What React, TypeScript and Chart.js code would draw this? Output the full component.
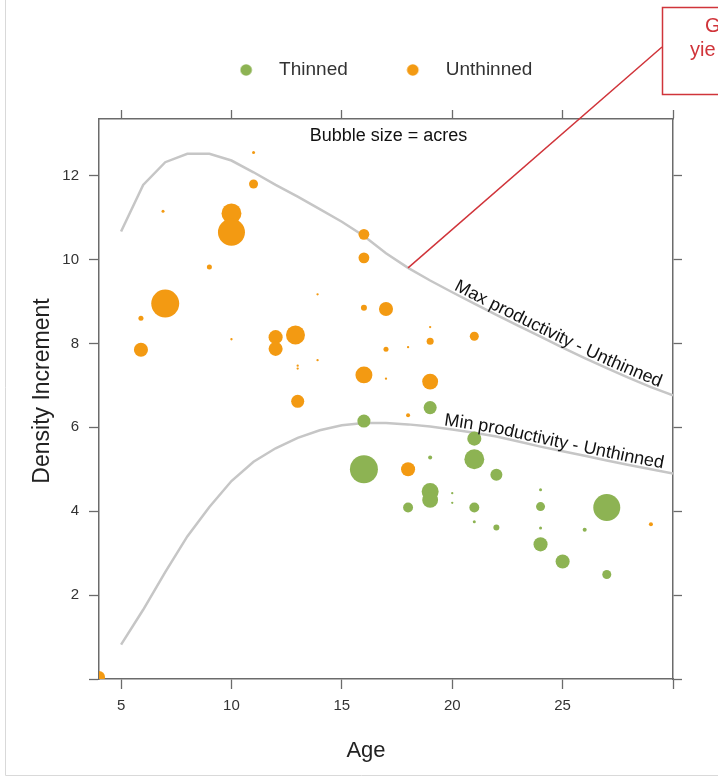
import React, { useEffect, useRef } from 'react';
import { Chart, registerables } from 'chart.js';

Chart.register(...registerables);

// ---------- data ----------
const CURVE_AGES = [5, 6, 7, 8, 9, 10, 11, 12, 13, 14, 15, 16, 17, 18, 19, 20, 21, 22, 23, 24, 25, 26, 27, 28, 29, 30];
const MAX_PRODUCTIVITY = [10.67, 11.78, 12.32, 12.52, 12.52, 12.36, 12.08, 11.78, 11.5, 11.2, 10.9, 10.56, 10.15, 9.8, 9.5, 9.22, 8.95, 8.68, 8.42, 8.16, 7.9, 7.65, 7.41, 7.18, 6.96, 6.76];
const MIN_PRODUCTIVITY = [0.82, 1.65, 2.55, 3.4, 4.1, 4.72, 5.18, 5.5, 5.75, 5.93, 6.05, 6.1, 6.1, 6.07, 6.02, 5.95, 5.87, 5.78, 5.66, 5.54, 5.43, 5.32, 5.21, 5.1, 5.0, 4.9];

const THINNED_AGE = [16, 16, 19, 21, 21, 19, 22, 19, 19, 20, 20, 18, 21, 21, 22, 24, 24, 24, 24, 25, 26, 27, 27];
const THINNED_INCREMENT = [6.15, 5.0, 6.47, 5.73, 5.24, 5.28, 4.87, 4.47, 4.27, 4.43, 4.2, 4.09, 4.09, 3.75, 3.61, 4.51, 4.11, 3.6, 3.21, 2.8, 3.56, 4.09, 2.49];
const THINNED_ACRES = [19, 87, 19, 22, 44, 1.8, 16, 32, 28, 0.6, 0.6, 11, 11, 1, 4, 1, 9, 1, 22, 22, 1.8, 81, 9];

const UNTHINNED_AGE = [4, 11, 11, 6.9, 10, 10, 9, 7, 5.9, 5.9, 10, 12, 12, 12.9, 13, 13, 13.9, 13.9, 13, 16, 16, 16, 17, 17, 16, 17, 19, 19, 18, 21, 19, 18, 18, 29];
const UNTHINNED_INCREMENT = [0.05, 12.55, 11.8, 11.15, 11.1, 10.65, 9.82, 8.95, 8.6, 7.85, 8.1, 8.15, 7.87, 8.2, 7.47, 7.4, 9.17, 7.6, 6.62, 10.6, 10.04, 8.85, 8.82, 7.86, 7.25, 7.16, 8.39, 8.05, 7.91, 8.17, 7.09, 6.29, 5.0, 3.69];
const UNTHINNED_ACRES = [16, 1, 9, 1, 44, 81, 2.8, 87, 2.8, 22, 0.6, 22, 22, 40, 0.6, 0.6, 0.6, 0.6, 19, 13, 13, 4, 22, 2.8, 32, 0.6, 0.6, 5.5, 0.6, 9, 28, 1.8, 22, 1.8];

const X_TICKS = [5, 10, 15, 20, 25, 30];
const X_LABELED = [5, 10, 15, 20, 25];
const Y_TICKS = [0, 2, 4, 6, 8, 10, 12];
const Y_LABELED = [2, 4, 6, 8, 10, 12];

// ---------- style ----------
const FONT = "'Liberation Sans', Arial, Helvetica, sans-serif";
const GREEN = '#8db353';
const ORANGE = '#f39a12';
const CURVE = '#c6c6c6';
const AXIS = '#6b6b6b';
const RED = '#d0343a';
const RADIUS_PER_SQRT_ACRE = 1.5;

function bubbles(ages: number[], inc: number[], acres: number[]) {
  return ages.map((a, i) => ({ x: a, y: inc[i], r: RADIUS_PER_SQRT_ACRE * Math.sqrt(acres[i]) }));
}
function curve(vals: number[]) {
  return CURVE_AGES.map((a, i) => ({ x: a, y: vals[i] }));
}

function makeDot(color: string) {
  const c = document.createElement('canvas');
  c.width = 30;
  c.height = 14;
  const g = c.getContext('2d')!;
  g.fillStyle = color;
  g.beginPath();
  g.arc(6.5, 7, 5.8, 0, Math.PI * 2);
  g.fill();
  return c;
}

function drawAlong(ctx: CanvasRenderingContext2D, text: string, pts: { x: number; y: number }[], startPx: number, offset: number) {
  const cum = [0];
  for (let i = 1; i < pts.length; i++) {
    cum.push(cum[i - 1] + Math.hypot(pts[i].x - pts[i - 1].x, pts[i].y - pts[i - 1].y));
  }
  let s0 = 0;
  for (let i = 1; i < pts.length; i++) {
    if (pts[i].x >= startPx) {
      const t = (startPx - pts[i - 1].x) / (pts[i].x - pts[i - 1].x);
      s0 = cum[i - 1] + t * (cum[i] - cum[i - 1]);
      break;
    }
  }
  const at = (s: number) => {
    let i = 1;
    while (i < pts.length - 1 && cum[i] < s) i++;
    const t = (s - cum[i - 1]) / (cum[i] - cum[i - 1]);
    return { x: pts[i - 1].x + t * (pts[i].x - pts[i - 1].x), y: pts[i - 1].y + t * (pts[i].y - pts[i - 1].y) };
  };
  ctx.textAlign = 'left';
  ctx.textBaseline = 'alphabetic';
  for (let k = 0; k < text.length; k++) {
    const before = ctx.measureText(text.slice(0, k)).width;
    const w = ctx.measureText(text[k]).width;
    const s = s0 + before + w / 2;
    const p = at(s);
    const a = at(s - 6);
    const b = at(s + 6);
    const ang = Math.atan2(b.y - a.y, b.x - a.x);
    ctx.save();
    ctx.translate(p.x, p.y);
    ctx.rotate(ang);
    ctx.fillText(text[k], -w / 2, -offset);
    ctx.restore();
  }
}

const annotations = {
  id: 'annotations',
  afterDatasetsDraw(chart: any) {
    const { ctx, chartArea, scales } = chart;
    const xs = scales.x;
    const ys = scales.y;
    const toPx = (vals: number[]) => CURVE_AGES.map((a, i) => ({ x: xs.getPixelForValue(a), y: ys.getPixelForValue(vals[i]) }));
    ctx.save();
    ctx.fillStyle = '#111';
    ctx.font = `18px ${FONT}`;
    drawAlong(ctx, 'Max productivity - Unthinned', toPx(MAX_PRODUCTIVITY), xs.getPixelForValue(20.0), 3);
    drawAlong(ctx, 'Min productivity - Unthinned', toPx(MIN_PRODUCTIVITY), xs.getPixelForValue(19.6), 3);
    ctx.textAlign = 'center';
    ctx.textBaseline = 'alphabetic';
    ctx.fillText('Bubble size = acres', (chartArea.left + chartArea.right) / 2 + 2.5, chartArea.top + 22);
    ctx.restore();
  },
  afterDraw(chart: any) {
    const { ctx, scales } = chart;
    const xs = scales.x;
    const ys = scales.y;
    ctx.save();
    // axis titles
    ctx.fillStyle = '#222';
    ctx.font = `22px ${FONT}`;
    ctx.textAlign = 'center';
    ctx.textBaseline = 'alphabetic';
    ctx.fillText('Age', 366, 757);
    ctx.save();
    ctx.translate(43, 391);
    ctx.rotate(-Math.PI / 2);
    ctx.font = `23px ${FONT}`;
    ctx.textBaseline = 'middle';
    ctx.fillText('Density Increment', 0, 0);
    ctx.restore();
    // slide frame
    ctx.strokeStyle = '#d9d9d9';
    ctx.lineWidth = 1;
    ctx.beginPath();
    ctx.moveTo(5.5, 0);
    ctx.lineTo(5.5, 775.5);
    ctx.lineTo(718, 775.5);
    ctx.stroke();
    // red callout
    ctx.strokeStyle = RED;
    ctx.lineWidth = 1.5;
    ctx.strokeRect(662.5, 7.5, 100, 87);
    ctx.beginPath();
    ctx.moveTo(662, 47);
    const idx = CURVE_AGES.indexOf(18);
    ctx.lineTo(xs.getPixelForValue(18), ys.getPixelForValue(MAX_PRODUCTIVITY[idx]));
    ctx.stroke();
    ctx.fillStyle = RED;
    ctx.font = `20px ${FONT}`;
    ctx.textAlign = 'left';
    ctx.fillText('G', 705, 32);
    ctx.fillText('yie', 690, 56);
    ctx.restore();
  },
};

const tickAxis = (pos: string, min: number, max: number, ticks: number[], len: number) => ({
  type: 'linear',
  position: pos,
  min,
  max,
  afterBuildTicks: (s: any) => {
    s.ticks = ticks.map((v) => ({ value: v }));
  },
  grid: { drawOnChartArea: false, drawTicks: true, tickLength: len, tickColor: AXIS, tickWidth: 1.3 },
  border: { display: true, color: AXIS, width: 1.5 },
});

export default function App() {
  const ref = useRef<HTMLCanvasElement>(null);
  useEffect(() => {
    if (!ref.current) return;
    Chart.defaults.font.family = FONT;
    const icons = [makeDot(GREEN), makeDot(ORANGE)];
    const defaultLabels = Chart.defaults.plugins.legend.labels.generateLabels;
    const chart = new Chart(ref.current, {
      type: 'bubble',
      data: {
        datasets: [
          { label: 'Thinned', data: bubbles(THINNED_AGE, THINNED_INCREMENT, THINNED_ACRES), backgroundColor: GREEN, borderWidth: 0, order: 0 } as any,
          { label: 'Unthinned', data: bubbles(UNTHINNED_AGE, UNTHINNED_INCREMENT, UNTHINNED_ACRES), backgroundColor: ORANGE, borderWidth: 0, order: 0 } as any,
          { type: 'line', label: 'Max productivity - Unthinned', data: curve(MAX_PRODUCTIVITY), borderColor: CURVE, borderWidth: 2.5, pointRadius: 0, fill: false, tension: 0, order: 1 } as any,
          { type: 'line', label: 'Min productivity - Unthinned', data: curve(MIN_PRODUCTIVITY), borderColor: CURVE, borderWidth: 2.5, pointRadius: 0, fill: false, tension: 0, order: 1 } as any,
        ],
      },
      options: {
        animation: false,
        responsive: false,
        events: [],
        layout: { padding: { top: 2, left: 0, right: 0, bottom: 0 } },
        plugins: {
          tooltip: { enabled: false },
          legend: {
            position: 'top',
            fullSize: false,
            labels: {
              usePointStyle: true,
              pointStyleWidth: 30,
              padding: 58.5,
              color: '#333',
              font: { size: 19, family: FONT },
              filter: (item: any) => item.datasetIndex < 2,
              generateLabels: (c: any) =>
                defaultLabels(c).map((it: any) => ({ ...it, pointStyle: icons[it.datasetIndex] || it.pointStyle })),
            },
          },
        },
        scales: {
          x: {
            ...tickAxis('bottom', 4, 30, X_TICKS, 10),
            afterFit: (s: any) => {
              s.height = 99;
            },
            ticks: {
              color: '#333',
              font: { size: 15, family: FONT },
              padding: 8,
              maxRotation: 0,
              autoSkip: false,
              callback: (v: any) => (X_LABELED.includes(v) ? String(v) : ''),
            },
          },
          x2: {
            ...tickAxis('top', 4, 30, X_TICKS, 9),
            afterFit: (s: any) => {
              s.height = 29.5;
            },
            ticks: { display: false },
          },
          y: {
            ...tickAxis('left', 0, 13.35, Y_TICKS, 10),
            afterFit: (s: any) => {
              s.width = 99;
            },
            ticks: {
              color: '#333',
              font: { size: 15, family: FONT },
              padding: 10,
              autoSkip: false,
              callback: (v: any) => (Y_LABELED.includes(v) ? String(v) : ''),
            },
          },
          y2: {
            ...tickAxis('right', 0, 13.35, Y_TICKS, 9),
            afterFit: (s: any) => {
              s.width = 45;
            },
            ticks: { display: false },
          },
        },
      } as any,
      plugins: [annotations],
    });
    return () => chart.destroy();
  }, []);
  return (
    <canvas
      ref={ref}
      width={718}
      height={778}
      style={{ position: 'absolute', left: 0, top: 0, width: 718, height: 778 }}
    />
  );
}
